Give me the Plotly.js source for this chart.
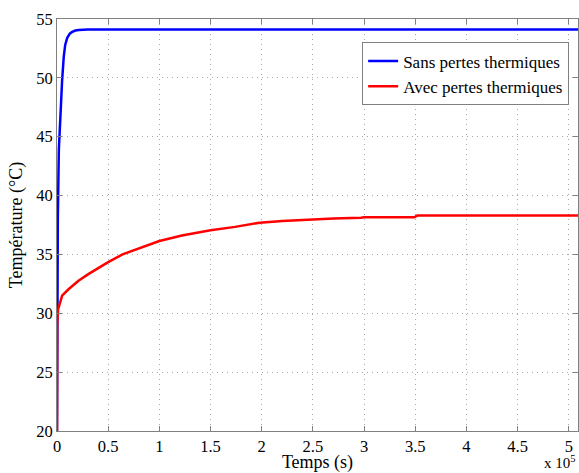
<!DOCTYPE html>
<html>
<head>
<meta charset="utf-8">
<script src="https://cdn.plot.ly/plotly-3.0.1.min.js"></script>
<style>html,body{margin:0;padding:0;background:#fff;}#chart{width:579px;height:473px;}</style>
</head>
<body>
<div id="chart"></div>
<script>
// Time in units of 1e5 s
const tSans = [0, 0.003, 0.008, 0.018, 0.034, 0.05, 0.066, 0.08, 0.10, 0.125, 0.148, 0.18, 0.213, 0.3, 1, 2, 3, 4, 5, 5.09];
const TSans = [20, 30, 38, 43.9, 47.3, 49.8, 51.8, 52.8, 53.4, 53.75, 53.9, 54.02, 54.07, 54.1, 54.1, 54.1, 54.1, 54.1, 54.1, 54.1];

const tAvec = [0, 0.002, 0.01, 0.05, 0.115, 0.21, 0.31, 0.44, 0.5, 0.64, 0.83, 1.0, 1.22, 1.5, 1.74, 1.98, 2.2, 2.47, 2.7, 2.97, 3.0, 3.49, 3.52, 4.0, 4.5, 5.09];
const TAvec = [20, 29, 30.3, 31.5, 32.06, 32.77, 33.35, 34.06, 34.34, 35.0, 35.63, 36.14, 36.6, 37.05, 37.34, 37.7, 37.85, 37.97, 38.05, 38.12, 38.15, 38.15, 38.3, 38.3, 38.3, 38.3];

const xTicks = [0, 0.5, 1, 1.5, 2, 2.5, 3, 3.5, 4, 4.5, 5];
const xTickLabels = ['0', '0.5', '1', '1.5', '2', '2.5', '3', '3.5', '4', '4.5', '5'];
const yTicks = [20, 25, 30, 35, 40, 45, 50, 55];

const fam = '"Liberation Serif", "Times New Roman", Times, serif';
const tickFont = {family: fam, size: 16.5, color: '#000'};
const titleFont = {family: fam, size: 18, color: '#000'};
const legendFont = {family: fam, size: 17, color: '#000'};

const traces = [
  {x: tSans, y: TSans, mode: 'lines', name: 'Sans pertes thermiques', legendgroup: 'a', line: {color: '#0000ff', width: 2.5}},
  {x: tAvec, y: TAvec, mode: 'lines', name: 'Avec pertes thermiques', legendgroup: 'b', line: {color: '#ff0000', width: 2.5}}
];

const axisCommon = {
  showline: true, linecolor: '#808080', linewidth: 1, mirror: 'ticks',
  ticks: 'inside', ticklen: 5, tickcolor: '#808080',
  showgrid: true, gridcolor: '#a8a8a8', griddash: '1px,4px', gridwidth: 1,
  zeroline: false, tickfont: tickFont
};

const layout = {
  width: 579, height: 473,
  margin: {l: 57, r: 1, t: 19, b: 42},
  paper_bgcolor: '#fff', plot_bgcolor: '#fff',
  font: tickFont,
  showlegend: true,
  legend: {
    x: 0.983, y: 0.943, xanchor: 'right', yanchor: 'top',
    bgcolor: '#fff', bordercolor: '#808080', borderwidth: 1,
    font: legendFont, tracegroupgap: 0
  },
  xaxis: Object.assign({}, axisCommon, {
    range: [0, 5.09], tickvals: xTicks, ticktext: xTickLabels,
    title: {text: 'Temps (s)', font: titleFont, standoff: 2}
  }),
  yaxis: Object.assign({}, axisCommon, {
    range: [20, 55], tickvals: yTicks,
    title: {text: 'Température (°C)', font: titleFont, standoff: 8}
  }),
  annotations: [
    {xref: 'paper', yref: 'paper', x: 1.0, y: -0.101, xanchor: 'right', yanchor: 'bottom',
     text: 'x 10<sup>5</sup>', showarrow: false, font: {family: fam, size: 15, color: '#000'}}
  ]
};

Plotly.newPlot('chart', traces, layout, {displayModeBar: false, staticPlot: true});
</script>
</body>
</html>
